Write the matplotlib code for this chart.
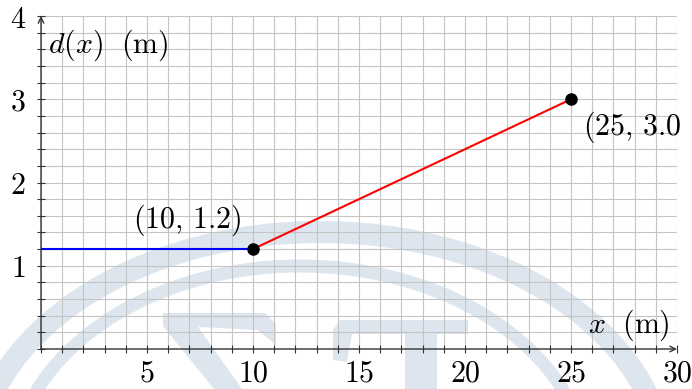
import numpy as np
import matplotlib
matplotlib.use('Agg')
import matplotlib.pyplot as plt
from matplotlib.patches import Polygon
from matplotlib.transforms import Affine2D, Bbox, TransformedBbox
from matplotlib.ticker import MultipleLocator, FuncFormatter

plt.rcParams['mathtext.fontset'] = 'cm'

# piecewise profile d(x)
x_flat = [0, 10]
d_flat = [1.2, 1.2]
x_ramp = [10, 25]
d_ramp = [1.2, 3.0]
pts_x = [10, 25]
pts_d = [1.2, 3.0]
pt_labels = [r'$(10,\,1.2)$', r'$(25,\,3.0)$']

W, H = 692, 389
FS = 21.5

fig = plt.figure(figsize=(W / 100, H / 100), dpi=100)
ax = fig.add_axes([41 / W, 1 - 349 / H, 636 / W, 333 / H])
ax.patch.set_alpha(0)

# faint logo behind the plot, in pixel coordinates
pix = Affine2D().scale(1 / W, -1 / H).translate(0, 1) + fig.transFigure
wm = '#dde5ee'


def band(cx, cy, a, b, w):
    t = np.linspace(0, np.pi, 300)
    outer = np.column_stack([cx + (a + w / 2) * np.cos(t), cy - (b + w / 2) * np.sin(t)])
    inner = np.column_stack([cx + (a - w / 2) * np.cos(t[::-1]), cy - (b - w / 2) * np.sin(t[::-1])])
    return np.vstack([outer, inner])


shapes = [
    band(320, 470, 345, 238, 22),
    band(300, 480, 290, 214, 13),
    np.array([(163, 313), (265, 313), (276, 324), (276, 345), (258, 330),
              (198, 327), (242, 389), (214, 389), (163, 326)]),
    np.array([(340, 320), (468, 320), (468, 334), (437, 334), (437, 389),
              (405, 389), (405, 334), (352, 334), (347, 362), (333, 360), (333, 330)]),
]
for s in shapes:
    fig.add_artist(Polygon(s, closed=True, facecolor=wm, edgecolor='none',
                           transform=pix, zorder=-5))

ax.set_xlim(0, 30)
ax.set_ylim(0, 4)

ax.xaxis.set_major_locator(MultipleLocator(5))
ax.xaxis.set_minor_locator(MultipleLocator(1))
ax.yaxis.set_major_locator(MultipleLocator(1))
ax.yaxis.set_minor_locator(MultipleLocator(0.2))
fmt = FuncFormatter(lambda v, p: '' if v == 0 else r'$%g$' % v)
ax.xaxis.set_major_formatter(fmt)
ax.yaxis.set_major_formatter(fmt)

ax.grid(True, which='both', color='#c4c4c4', lw=0.8)
ax.set_axisbelow(True)
ax.tick_params(which='both', direction='inout', length=6, width=0.8, color='#333333',
               labelsize=FS)
ax.tick_params(axis='x', pad=4)
ax.tick_params(axis='y', pad=8)

for sp in ax.spines.values():
    sp.set_visible(False)
ax.annotate('', xy=(30, 0), xytext=(0, 0),
            arrowprops=dict(arrowstyle='->', lw=1.0, color='#333333', shrinkA=0, shrinkB=0))
ax.annotate('', xy=(0, 4), xytext=(0, 0),
            arrowprops=dict(arrowstyle='->', lw=1.0, color='#333333', shrinkA=0, shrinkB=0))

ax.plot(x_flat, d_flat, color='#0000ff', lw=1.5, zorder=3)
ax.plot(x_ramp, d_ramp, color='#ff0000', lw=1.5, zorder=3)
ax.plot(pts_x, pts_d, 'o', color='k', ms=8, zorder=4)

ax.text(4.34, 1.55, pt_labels[0], fontsize=FS, ha='left', va='center')
t = ax.text(25.57, 2.665, pt_labels[1], fontsize=FS, ha='left', va='center')
# page edge cuts the right-hand label
t.set_clip_box(TransformedBbox(Bbox.from_extents(0, 0, 680 / W, 1), fig.transFigure))
t.set_clip_on(True)

ax.text(0.33, 3.65, r'$d(x)\ \ \mathrm{(m)}$', fontsize=FS, ha='left', va='center')
ax.text(25.8, 0.29, r'$x\ \ \mathrm{(m)}$', fontsize=FS, ha='left', va='center')

fig.savefig('out.png', dpi=100)
